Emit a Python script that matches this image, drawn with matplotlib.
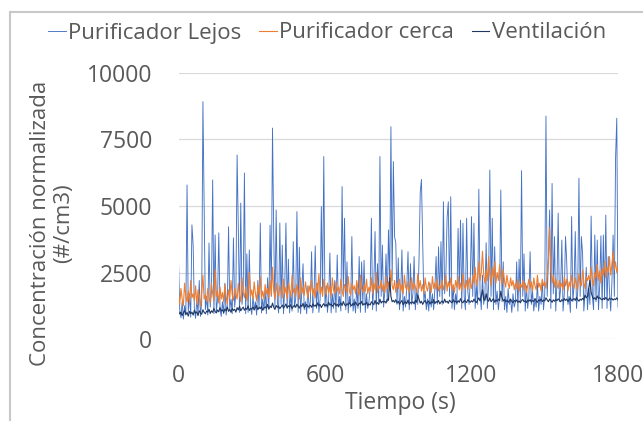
import matplotlib.pyplot as plt
from matplotlib.patches import Rectangle

# muestreo cada 5 s durante 30 min
tiempo = list(range(0, 1801, 5))

lejos = [
    2950, 1100, 800, 1400, 750, 1250, 900, 5790, 1000, 1700, 820, 4290,
    3530, 1100, 780, 1500, 950, 2200, 850, 1400, 8920, 5040, 1100, 1600,
    900, 3610, 1200, 1800, 5980, 950, 3910, 1000, 1500, 3990, 1150, 850,
    1400, 950, 2100, 900, 1300, 4220, 1100, 1500, 950, 3800, 1200, 1700,
    6920, 4130, 1000, 5110, 1300, 1900, 6240, 950, 3200, 1000, 3350, 1200,
    920, 1600, 1100, 1400, 900, 2200, 1150, 4360, 980, 1500, 1100, 1800,
    950, 2300, 1150, 4280, 1600, 7930, 3900, 1200, 4850, 1400, 980, 4360,
    1300, 3530, 950, 1900, 4360, 1150, 3000, 980, 1700, 1050, 3660, 1200,
    1500, 4790, 1000, 3450, 950, 1800, 2830, 1100, 1400, 950, 2000, 1150,
    1400, 3280, 980, 1600, 3500, 1150, 2100, 1000, 1500, 4980, 1700, 6860,
    1200, 2000, 1000, 1500, 3230, 980, 1700, 1150, 2200, 1000, 3160, 1200,
    1600, 1050, 5730, 1800, 4540, 1100, 2900, 980, 1600, 1200, 3850, 1050,
    1500, 980, 2000, 1150, 3100, 1000, 2900, 1300, 2960, 1000, 1700, 1150,
    1400, 1900, 4540, 1100, 2100, 4040, 1050, 2830, 1400, 6860, 1600, 3530,
    1200, 1800, 3200, 1400, 4100, 2000, 7980, 2200, 6670, 3850, 3600, 1300,
    3050, 1100, 1700, 3350, 1050, 1600, 1200, 2000, 3280, 1100, 2830, 1300,
    1700, 3100, 1100, 1900, 1300, 2960, 5490, 6000, 3790, 1400, 1800, 1100,
    1500, 1050, 2100, 1200, 1700, 1100, 1900, 3100, 1300, 3470, 1600, 3660,
    1300, 5160, 1700, 2400, 4540, 5160, 1600, 5350, 1150, 2000, 1100, 1700,
    1300, 4160, 1900, 4470, 1150, 4350, 1600, 1100, 4540, 1800, 1300, 2200,
    4600, 1600, 4350, 1150, 2000, 1300, 5630, 1800, 1100, 2400, 1300, 1700,
    3620, 1150, 2000, 6350, 1600, 4540, 1100, 3470, 1300, 1800, 1100, 1600,
    5600, 1400, 2900, 1100, 1600, 1000, 1900, 1300, 1500, 1000, 1700, 1200,
    1400, 2900, 1050, 3000, 1400, 6330, 1600, 3200, 1050, 2000, 1150, 1600,
    3280, 1300, 1800, 1050, 1500, 1200, 2100, 1050, 1600, 1300, 2200, 1100,
    1700, 8380, 1600, 3000, 4850, 1150, 5850, 1700, 3850, 1050, 2100, 4730,
    1400, 1900, 3720, 1050, 1700, 3850, 2900, 1300, 1600, 1000, 4600, 1400,
    2000, 4040, 1150, 1800, 6040, 1600, 3850, 3200, 1050, 1700, 2700, 1100,
    1900, 1300, 4620, 1600, 1100, 3910, 1400, 3720, 1100, 2000, 3880, 1150,
    3910, 1500, 4660, 1150, 3100, 1800, 1050, 2100, 3910, 1600, 6790, 8300,
    1200,
]

cerca = [
    1650, 1300, 1900, 1500, 1250, 2100, 1600, 1400, 1800, 1350, 2200, 1550,
    1700, 1450, 2000, 1300, 1850, 1600, 1200, 1750, 2400, 1500, 1650, 1400,
    1900, 1550, 1350, 2100, 1700, 1450, 2600, 1600, 1800, 1350, 1950, 1500,
    1750, 1400, 2050, 1600, 1300, 1850, 1550, 2200, 1650, 1450, 1900, 1700,
    1500, 2100, 1650, 1400, 2300, 1750, 1550, 1950, 1450, 1800, 2500, 1600,
    1850, 1500, 2150, 1700, 1450, 2000, 1650, 2350, 1550, 1800, 1500, 2050,
    1700, 1900, 1550, 2200, 1650, 2700, 1800, 1500, 2100, 1750, 1600, 2000,
    1800, 1550, 2250, 1700, 1950, 1500, 2100, 1850, 1600, 2400, 1750, 1900,
    1600, 2050, 1800, 1500, 2300, 1700, 1950, 1650, 2150, 1800, 1550, 2000,
    1750, 2200, 1650, 1900, 1550, 2100, 1800, 2450, 1700, 1950, 1600, 2250,
    1850, 1650, 2100, 1750, 2000, 1600, 2300, 1850, 1700, 2150, 1800, 1950,
    1700, 2250, 1850, 1600, 2050, 1900, 1750, 2350, 1800, 1650, 2100, 1850,
    2000, 1700, 2200, 1850, 1650, 2400, 1900, 1750, 2050, 1800, 2250, 1700,
    1950, 1800, 2300, 1700, 2100, 1850, 2500, 1750, 2000, 1900, 2200, 1800,
    2050, 1750, 2350, 1900, 2150, 1800, 2600, 2000, 1850, 2200, 1750, 2100,
    1900, 2250, 1800, 2050, 1700, 2400, 1950, 1850, 2150, 1750, 2000, 2300,
    1850, 2100, 1950, 1750, 2450, 1900, 2200, 1800, 2050, 1700, 2300, 1950,
    1800, 2150, 2000, 1750, 2350, 1900, 2100, 1850, 2250, 1800, 2000, 1900,
    2200, 1850, 2050, 2400, 1800, 2150, 1950, 2300, 1850, 2050, 1750, 2200,
    1950, 2350, 1850, 2100, 1800, 2450, 2000, 1900, 2200, 1850, 2300, 2050,
    1900, 2400, 2100, 2700, 2000, 2300, 2900, 2200, 2500, 3300, 2400, 2100,
    2600, 2200, 3100, 2400, 2000, 2700, 2300, 2900, 2100, 2500, 2200, 2800,
    2300, 2050, 2600, 2200, 1950, 2400, 2100, 1900, 2300, 2000, 2200, 1850,
    2100, 1900, 2250, 1800, 2050, 1950, 2200, 1850, 2100, 1750, 2000, 2250,
    1900, 2150, 1800, 2300, 2000, 1850, 2400, 1950, 2100, 1800, 2250, 2000,
    2150, 1900, 2350, 3000, 4200, 2600, 2100, 2400, 1950, 2250, 2050, 1900,
    2200, 1950, 2100, 1850, 2350, 2000, 2250, 1800, 2150, 1950, 2400, 2050,
    1900, 2300, 2050, 1850, 2450, 2100, 2000, 2600, 2150, 1900, 2350, 2200,
    2400, 2100, 2700, 2250, 2000, 2500, 2300, 2800, 2200, 2550, 2100, 2650,
    2400, 2900, 2300, 2700, 2500, 3100, 2400, 2800, 3300, 2600, 2900, 2500,
    2700,
]

ventilacion = [
    1050, 940, 1010, 880, 990, 1070, 920, 1000, 860, 1040, 950, 1010,
    900, 1080, 970, 1020, 880, 1060, 990, 930, 1100, 1000, 950, 1050,
    1010, 1120, 960, 1060, 1000, 1150, 1030, 980, 1090, 1020, 1180, 1050,
    1100, 990, 1130, 1060, 1200, 1040, 1110, 1000, 1150, 1070, 1120, 1010,
    1180, 1090, 1230, 1060, 1140, 1200, 1080, 1160, 1110, 1250, 1070, 1150,
    1120, 1210, 1090, 1180, 1260, 1100, 1190, 1140, 1230, 1080, 1170, 1210,
    1150, 1300, 1120, 1240, 1180, 1350, 1200, 1110, 1260, 1190, 1230, 1140,
    1210, 1280, 1160, 1230, 1320, 1170, 1250, 1200, 1290, 1140, 1220, 1270,
    1190, 1310, 1230, 1160, 1280, 1220, 1340, 1180, 1250, 1300, 1200, 1240,
    1270, 1190, 1320, 1230, 1280, 1210, 1360, 1250, 1300, 1180, 1270, 1330,
    1240, 1300, 1210, 1380, 1270, 1320, 1230, 1290, 1350, 1250, 1310, 1220,
    1300, 1360, 1260, 1410, 1290, 1240, 1330, 1280, 1370, 1300, 1250, 1340,
    1280, 1390, 1300, 1250, 1350, 1310, 1420, 1270, 1330, 1290, 1380, 1260,
    1320, 1280, 1400, 1340, 1290, 1450, 1310, 1370, 1300, 1500, 1350, 1420,
    1380, 1420, 1350, 1500, 1450, 2300, 1600, 1400, 1450, 1380, 1480, 1350,
    1420, 1310, 1380, 1450, 1290, 1360, 1400, 1330, 1470, 1300, 1380, 1350,
    1400, 1320, 1460, 1380, 1650, 1500, 1350, 1420, 1300, 1390, 1450, 1340,
    1380, 1430, 1310, 1400, 1360, 1480, 1330, 1410, 1370, 1450, 1320, 1390,
    1430, 1350, 1500, 1380, 1420, 1340, 1460, 1400, 1360, 1480, 1390, 1430,
    1350, 1440, 1380, 1520, 1400, 1360, 1450, 1410, 1370, 1480, 1420, 1380,
    1440, 1390, 1500, 1420, 1370, 1460, 1550, 1430, 1600, 1850, 1500, 1450,
    1700, 1480, 1420, 1550, 1400, 1460, 1520, 1380, 1470, 1420, 1500, 1440,
    1800, 1550, 1430, 1490, 1400, 1460, 1380, 1440, 1500, 1410, 1360, 1450,
    1400, 1470, 1380, 1430, 1360, 1450, 1490, 1400, 1440, 1370, 1460, 1420,
    1480, 1390, 1450, 1410, 1520, 1430, 1380, 1470, 1440, 1500, 1410, 1460,
    1430, 1550, 1470, 1400, 1500, 1450, 1380, 1470, 1420, 1490, 1440, 1510,
    1460, 1400, 1480, 1430, 1520, 1450, 1500, 1410, 1470, 1540, 1440, 1480,
    1520, 1450, 1560, 1480, 1420, 1500, 1460, 1530, 1470, 1650, 1550, 1600,
    1900, 2200, 1750, 1600, 1500, 1550, 1480, 1620, 1520, 1560, 1500, 1470,
    1530, 1480, 1560, 1500, 1450, 1540, 1490, 1520, 1460, 1510, 1480, 1550,
    1470,
]

plt.rcParams['font.family'] = ['Open Sans', 'DejaVu Sans']
gris = '#595959'

fig = plt.figure(figsize=(6.43, 4.21), dpi=100)
ax = fig.add_axes([178.5 / 643, 82 / 421, 439.5 / 643, 266 / 421])

ax.plot(tiempo, lejos, color='#4472C4', lw=0.65, label='Purificador Lejos')
ax.plot(tiempo, cerca, color='#ED7D31', lw=0.8, label='Purificador cerca')
ax.plot(tiempo, ventilacion, color='#1F3864', lw=0.8, label='Ventilación')

ax.set_xlim(0, 1800)
ax.set_ylim(0, 10000)
ax.set_xticks([0, 600, 1200, 1800])
ax.set_yticks([0, 2500, 5000, 7500, 10000])
ax.grid(axis='y', color='#D9D9D9', lw=0.9)
ax.set_axisbelow(True)
for s in ax.spines.values():
    s.set_visible(False)
ax.tick_params(length=0, labelsize=16.5, labelcolor=gris)
ax.tick_params(axis='y', pad=19)
ax.tick_params(axis='x', pad=18)

fig.text(52 / 643, 1 - 223 / 421, 'Concentración normalizada\n(#/cm3)',
         rotation=90, ha='center', va='center', multialignment='center',
         fontsize=16, color=gris, linespacing=1.1)
fig.text(400 / 643, 1 - 403 / 421, 'Tiempo (s)', ha='center', va='center',
         fontsize=16.5, color=gris)

fig.legend(loc='center', bbox_to_anchor=(327 / 643, 1 - 33 / 421), ncol=3,
           frameon=False, fontsize=16, handlelength=0.8, handletextpad=0.1,
           columnspacing=0.8, labelcolor=gris)

# borde del área del gráfico, en píxeles de la figura
fig.add_artist(Rectangle((10, -20), 700, 421 - 12 + 20, transform=None,
                         fill=False, ec='#C8C8C8', lw=1.5, zorder=10))

fig.savefig('out.png', dpi=100)
